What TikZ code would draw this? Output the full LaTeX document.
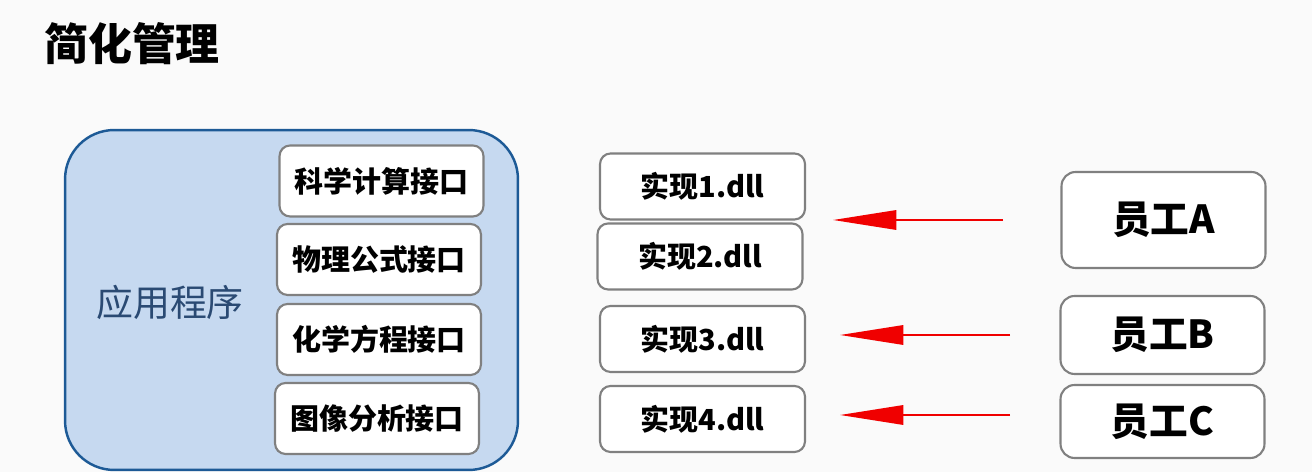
\documentclass[tikz,border=0pt]{standalone}
\usepackage{fontspec}
\usepackage{xcolor}
\usepackage{tikz}
\usetikzlibrary{arrows.meta}
\setmainfont{Noto Sans CJK SC}
\definecolor{bgpage}{HTML}{FAFAFA}
\definecolor{appfill}{HTML}{C6D9F0}
\definecolor{appline}{HTML}{1D5A96}
\definecolor{apptext}{HTML}{2A4A73}
\definecolor{boxline}{HTML}{808080}
\definecolor{arrred}{HTML}{F00000}

\begin{document}
\begin{tikzpicture}[x=0.02cm, y=-0.02cm,
	ibox/.style={draw=boxline, line width=1.2pt, fill=white, rounded corners=6pt,
		minimum width=4.08cm, minimum height=1.42cm, inner sep=0pt,
		font=\fontsize{16.5}{18}\selectfont\bfseries},
	dllbox/.style={ibox, minimum width=4.1cm, minimum height=1.32cm},
	empbox/.style={ibox, rounded corners=8pt, font=\fontsize{22}{24}\selectfont\bfseries},
	redarrow/.style={draw=arrred, line width=1.2pt, -{Triangle[length=36pt,width=11pt]}}]
		%% page and title
		\fill[bgpage] (0,0) rectangle (1312,472);
		\useasboundingbox (0,0) rectangle (1312,472);
		\node[font=\fontsize{25}{27}\selectfont\bfseries] (title) at (132,44) {简化管理};

		%% application with its interfaces
		\node[draw=appline, line width=1.4pt, fill=appfill, rounded corners=28pt,
			minimum width=9.06cm, minimum height=6.8cm] (app) at (291.5,300) {};
		\node[text=apptext, font=\fontsize{21}{23}\selectfont] (appname) at (170,302) {应用程序};
		\node[ibox] (sci) at (381.5,181) {科学计算接口};
		\node[ibox] (phy) at (379,259.5) {物理公式接口};
		\node[ibox] (chem) at (379,339.5) {化学方程接口};
		\node[ibox] (img) at (377,418.5) {图像分析接口};

		% implementations
		\node[dllbox] (dll1) at (702.5,186.5) {实现1.dll};
		\node[dllbox] (dll2) at (700,256.5) {实现2.dll};
		\node[dllbox] (dll3) at (702.5,339) {实现3.dll};
		\node[dllbox] (dll4) at (702.5,419) {实现4.dll};

		% employees
		\node[empbox, minimum height=1.92cm] (empA) at (1163.5,220) {员工A};
		\node[empbox, minimum height=1.56cm] (empB) at (1162.5,335) {员工B};
		\node[empbox, minimum height=1.46cm] (empC) at (1162.5,421.5) {员工C};

		% arrows
		\coordinate (arrA0) at (1003,220);
		\coordinate (arrA1) at (833,220);
		\coordinate (arrB0) at (1010,335);
		\coordinate (arrB1) at (840,335);
		\coordinate (arrC0) at (1010,415);
		\coordinate (arrC1) at (840,415);
		\draw[redarrow] (arrA0) -- (arrA1);
		\draw[redarrow] (arrB0) -- (arrB1);
		\draw[redarrow] (arrC0) -- (arrC1);
	\end{tikzpicture}
\end{document}
